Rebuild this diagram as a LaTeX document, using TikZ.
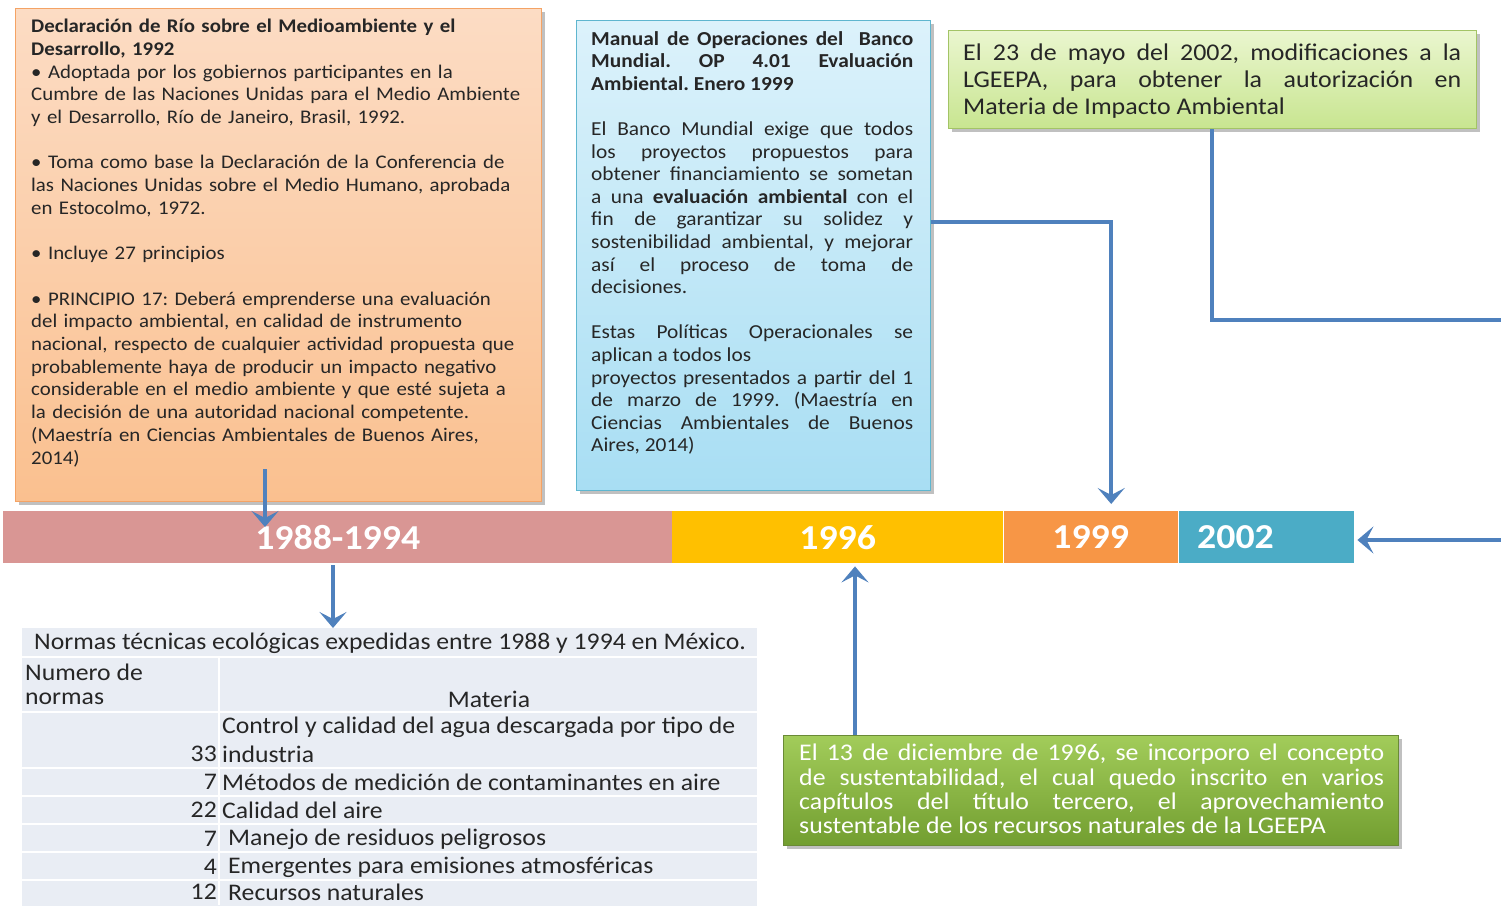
\documentclass[tikz,border=0pt]{standalone}
\usepackage{fontspec}
\setmainfont{Carlito}[FakeStretch=1.08]
\usetikzlibrary{arrows.meta,shadows,calc}
\definecolor{arrblue}{HTML}{4F81BD}
\definecolor{txtdark}{HTML}{262626}
\definecolor{orTop}{HTML}{FCDCC4}
\definecolor{orBot}{HTML}{FAC08F}
\definecolor{orLine}{HTML}{F4A365}
\definecolor{blTop}{HTML}{DCF2FB}
\definecolor{blBot}{HTML}{A8DEF3}
\definecolor{blLine}{HTML}{5FB6CF}
\definecolor{grTop}{HTML}{EAF6CF}
\definecolor{grBot}{HTML}{C8E590}
\definecolor{grLine}{HTML}{A3C466}
\definecolor{gdTop}{HTML}{A2CC5A}
\definecolor{gdBot}{HTML}{729E30}
\definecolor{gdLine}{HTML}{6A8A36}
\definecolor{segPink}{HTML}{D99694}
\definecolor{segYel}{HTML}{FFC000}
\definecolor{segOra}{HTML}{F79646}
\definecolor{segTeal}{HTML}{4BACC6}
\definecolor{tblBg}{HTML}{E9EDF4}
\hyphenpenalty=10000
\exhyphenpenalty=10000
\frenchspacing
\begin{document}
\begin{tikzpicture}[x=1pt,y=-1pt,
  boxbase/.style={inner sep=0pt, anchor=north west,
    drop shadow={shadow xshift=3pt, shadow yshift=-3pt, opacity=0.35, fill=black!70}},
  orbox/.style={boxbase, draw=orLine, line width=1.2pt, top color=orTop, bottom color=orBot},
  blbox/.style={boxbase, draw=blLine, line width=1.2pt, top color=blTop, bottom color=blBot},
  grbox/.style={boxbase, draw=grLine, line width=1.2pt, top color=grTop, bottom color=grBot},
  gdbox/.style={boxbase, draw=gdLine, line width=1.2pt, top color=gdTop, bottom color=gdBot},
  txt/.style={inner sep=0pt, anchor=north west, text=txtdark},
  seg/.style={inner sep=0pt, anchor=north west, minimum height=52pt, text=white,
    font=\fontsize{35}{40}\selectfont\bfseries},
  arr/.style={draw=arrblue, line width=4.5pt, -{Stealth[length=16pt,width=27pt,inset=7pt]}},
  conn/.style={draw=arrblue, line width=4.5pt},
  tcell/.style={inner sep=0pt, text=txtdark, font=\fontsize{23.8}{27}\selectfont},
]
\useasboundingbox (0,0) rectangle (1501,905);
\fill[white] (0,0) rectangle (1501,905);

% ---------- orange box ----------
\node[orbox, minimum width=526pt, minimum height=493pt] (rio) at (15,8) {};
\node[txt, text width=505pt, align=left, font=\fontsize{19.3}{22.7}\selectfont] (riotxt) at (31,19) {%
{\bfseries Declaración de Río sobre el Medioambiente y el\\ Desarrollo, 1992}\\
• Adoptada por los gobiernos participantes en la\\ Cumbre de las Naciones Unidas para el Medio Ambiente\\ y el Desarrollo, Río de Janeiro, Brasil, 1992.\par\vspace{\baselineskip}
• Toma como base la Declaración de la Conferencia de\\ las Naciones Unidas sobre el Medio Humano, aprobada\\ en Estocolmo, 1972.\par\vspace{\baselineskip}
• Incluye 27 principios\par\vspace{\baselineskip}
• PRINCIPIO 17: Deberá emprenderse una evaluación\\ del impacto ambiental, en calidad de instrumento\\ nacional, respecto de cualquier actividad propuesta que\\ probablemente haya de producir un impacto negativo\\ considerable en el medio ambiente y que esté sujeta a\\ la decisión de una autoridad nacional competente.\\ (Maestría en Ciencias Ambientales de Buenos Aires,\\ 2014)};

% ---------- blue box ----------
\node[blbox, minimum width=354pt, minimum height=470pt] (wb) at (576,20) {};
\node[txt, text width=322pt, align=justify, font=\fontsize{19.8}{22.6}\selectfont] (wbtxt) at (591,31) {%
{\bfseries Manual de Operaciones del\ \ Banco\linebreak Mundial.\ \ OP\ \ 4.01\ \ Evaluación\linebreak Ambiental. Enero 1999}\par\vspace{\baselineskip}
El Banco Mundial exige que todos\linebreak los proyectos propuestos para\linebreak obtener financiamiento se sometan\linebreak a una \textbf{evaluación ambiental} con el\linebreak fin de garantizar su solidez y\linebreak sostenibilidad ambiental, y mejorar\linebreak así el proceso de toma de\linebreak decisiones.\par\vspace{\baselineskip}
Estas Políticas Operacionales se\linebreak aplican a todos los\newline proyectos presentados a partir del 1\linebreak de marzo de 1999. (Maestría en\linebreak Ciencias Ambientales de Buenos\linebreak Aires, 2014)};

% ---------- top-right green box ----------
\node[grbox, minimum width=528pt, minimum height=98pt] (g02) at (948,30) {};
\node[txt, text width=498pt, align=justify, font=\fontsize{24}{27}\selectfont] (g02txt) at (963,44) {%
El 23 de mayo del 2002, modificaciones a la\linebreak LGEEPA, para obtener la autorización en\linebreak Materia de Impacto Ambiental};

% ---------- bottom green box ----------
\node[gdbox, minimum width=615pt, minimum height=110pt] (g96) at (783,735) {};
\node[txt, text=white, text width=585pt, align=justify, font=\fontsize{23.9}{24.3}\selectfont] (g96txt) at (799,744) {%
El 13 de diciembre de 1996, se incorporo el concepto\linebreak de sustentabilidad, el cual quedo inscrito en varios\linebreak capítulos del título tercero, el aprovechamiento\linebreak sustentable de los recursos naturales de la LGEEPA};

% ---------- timeline ----------
\node[seg, fill=segPink, minimum width=669pt] (t1) at (3,511) {1988-1994};
\node[seg, fill=segYel, minimum width=331pt] (t2) at (672,511) {1996};
\node[seg, fill=segOra, minimum width=175pt] (t3) at (1003,511) {1999};
\node[seg, fill=segTeal, minimum width=176pt, text width=138pt, align=left, inner xsep=19pt] (t4) at (1178,511) {2002};
\draw[white, line width=1pt] (t3.north west) -- (t3.south west) (t4.north west) -- (t4.south west);

% ---------- table ----------
\node[inner sep=0pt, anchor=north west, fill=tblBg, minimum width=735pt, minimum height=280pt] (tbl) at (22,628) {};
\foreach \yy in {657,712,768,796,824,852,880}{
  \draw[white, line width=2pt] (22,\yy) -- (757,\yy);
}
\draw[white, line width=2pt] (219,657) -- (219,905);
\node[tcell, anchor=center] (ttitle) at (390,643) {Normas técnicas ecológicas expedidas entre 1988 y 1994 en México.};
\node[tcell, anchor=west] (h1a) at (25,672) {Numero de};
\node[tcell, anchor=west] (h1b) at (25,699) {normas};
\node[tcell, anchor=center] (h2) at (489,699) {Materia};
\node[tcell, anchor=west] (r1a) at (222,727) {Control y calidad del agua descargada por tipo de};
\node[tcell, anchor=east] (n1) at (217,754) {33};
\node[tcell, anchor=west] (r1b) at (222,754) {industria};
\node[tcell, anchor=east] (n2) at (217,782) {7};
\node[tcell, anchor=west] (r2) at (222,782) {Métodos de medición de contaminantes en aire};
\node[tcell, anchor=east] (n3) at (217,810) {22};
\node[tcell, anchor=west] (r3) at (222,810) {Calidad del aire};
\node[tcell, anchor=east] (n4) at (217,839) {7};
\node[tcell, anchor=west] (r4) at (228,839) {Manejo de residuos peligrosos};
\node[tcell, anchor=east] (n5) at (217,867) {4};
\node[tcell, anchor=west] (r5) at (228,867) {Emergentes para emisiones atmosféricas};
\node[tcell, anchor=east] (n6) at (217,892) {12};
\node[tcell, anchor=west] (r6) at (228,892) {Recursos naturales};

% ---------- connectors ----------
\coordinate (a1s) at ($(rio.south west)+(250,-33)$);
\draw[arr] (a1s) -- ($(a1s |- t1.north)+(0,16)$);
\coordinate (a2s) at ($(t1.south west)+(330,2)$);
\draw[arr] (a2s) -- (a2s |- tbl.north);
\coordinate (a3s) at ($(wb.north east)+(0,202)$);
\coordinate (a3c) at ($(a3s)+(180,0)$);
\draw[arr] (a3s) -- (a3c) -- ($(a3c |- t3.north)+(0,-7)$);
\coordinate (a4s) at ($(g02.south west)+(264,0)$);
\coordinate (redge1) at (1503,320);
\draw[conn] (a4s) |- (redge1);
\coordinate (redge2) at (1503,540);
\draw[arr] (redge2) -- ($(redge2 -| t4.east)+(3,0)$);
\coordinate (a6s) at ($(g96.north west)+(72,0)$);
\draw[arr] (a6s) -- ($(a6s |- t2.south)+(0,3)$);
\end{tikzpicture}
\end{document}
